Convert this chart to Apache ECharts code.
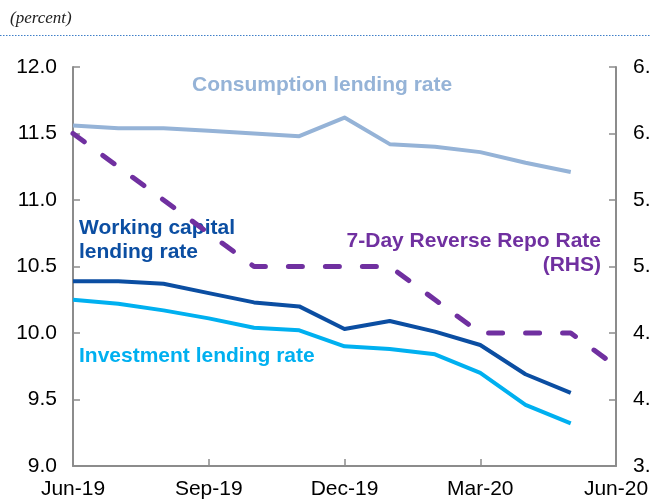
<!DOCTYPE html>
<html>
<head>
<meta charset="utf-8">
<script src="https://cdn.jsdelivr.net/npm/echarts@6/dist/echarts.min.js"></script>
<style>
  html, body { margin: 0; padding: 0; background: #fff; }
  #chart { width: 650px; height: 501px; }
</style>
</head>
<body>
<div id="chart"></div>
<script>
// monthly observations, Jun-19 .. Jun-20
const months = ['Jun-19', 'Jul-19', 'Aug-19', 'Sep-19', 'Oct-19', 'Nov-19', 'Dec-19',
  'Jan-20', 'Feb-20', 'Mar-20', 'Apr-20', 'May-20', 'Jun-20']
const consumption = [11.56, 11.54, 11.54, 11.52, 11.50, 11.48, 11.62, 11.42, 11.40, 11.36, 11.28, 11.21]
const workingCapital = [10.39, 10.39, 10.37, 10.30, 10.23, 10.20, 10.03, 10.09, 10.01, 9.91, 9.69, 9.55]
const investment = [10.25, 10.22, 10.17, 10.11, 10.04, 10.02, 9.90, 9.88, 9.84, 9.70, 9.46, 9.32]
const reverseRepo = [6.0, 5.75, 5.5, 5.25, 5.0, 5.0, 5.0, 5.0, 4.75, 4.5, 4.5, 4.5, 4.25]

const font = 'Liberation Sans, Arial, sans-serif'
const axisColor = '#8c8c8c'

let chart = echarts.init(document.getElementById('chart'))

function lineSeries (name, data, color, yIndex, dashed) {
  return {
    name: name,
    type: 'line',
    data: data,
    yAxisIndex: yIndex,
    symbol: 'none',
    silent: true,
    lineStyle: {
      color: color,
      width: dashed ? 5 : 4,
      type: dashed ? [14, 23] : 'solid',
      cap: dashed ? 'round' : 'butt',
      join: 'round'
    }
  }
}

function label (text, x, y, color, align) {
  return {
    type: 'text',
    x: x,
    y: y,
    style: {
      text: text,
      fill: color,
      font: 'bold 21px ' + font,
      align: align || 'left',
      verticalAlign: 'middle',
      lineHeight: 24
    }
  }
}

let options = {
  animation: false,
  grid: { left: 73, right: 34, top: 67, bottom: 35, outerBoundsMode: 'none' },
  xAxis: {
    type: 'category',
    data: months,
    boundaryGap: false,
    axisLine: { lineStyle: { color: axisColor, width: 2 } },
    axisTick: { inside: true, length: 7, interval: 2, lineStyle: { color: axisColor, width: 1.5 } },
    axisLabel: { interval: 2, margin: 13, color: '#000', fontSize: 21, fontFamily: font }
  },
  yAxis: [
    {
      type: 'value',
      min: 9,
      max: 12,
      interval: 0.5,
      axisLine: { show: true, lineStyle: { color: axisColor, width: 2 } },
      axisTick: { show: true, inside: true, length: 7, lineStyle: { color: axisColor, width: 1.5 } },
      axisLabel: { margin: 16, color: '#000', fontSize: 21, fontFamily: font, formatter: v => v.toFixed(1) },
      splitLine: { show: false }
    },
    {
      type: 'value',
      min: 3.5,
      max: 6.5,
      interval: 0.5,
      position: 'right',
      axisLine: { show: true, lineStyle: { color: axisColor, width: 2 } },
      axisTick: { show: true, inside: true, length: 7, lineStyle: { color: axisColor, width: 1.5 } },
      axisLabel: { margin: 17, color: '#000', fontSize: 21, fontFamily: font, formatter: v => v.toFixed(1) },
      splitLine: { show: false }
    }
  ],
  series: [
    lineSeries('Consumption lending rate', consumption, '#95b3d7', 0),
    lineSeries('Working capital lending rate', workingCapital, '#0b4ea2', 0),
    lineSeries('Investment lending rate', investment, '#00b0f0', 0),
    lineSeries('7-Day Reverse Repo Rate (RHS)', reverseRepo, '#7030a0', 1, true)
  ],
  graphic: [
    {
      type: 'text',
      x: 10,
      y: 19,
      style: { text: '(percent)', fill: '#222', font: 'italic 17px Liberation Serif, serif', verticalAlign: 'middle' }
    },
    {
      type: 'line',
      shape: { x1: 0, y1: 35.5, x2: 650, y2: 35.5 },
      style: { stroke: '#3f7fc8', lineWidth: 1, lineDash: [1.5, 1.5] }
    },
    label('Consumption lending rate', 192, 85, '#95b3d7'),
    label('Working capital\nlending rate', 79, 240, '#0b4ea2'),
    label('7-Day Reverse Repo Rate\n(RHS)', 601, 253, '#7030a0', 'right'),
    label('Investment lending rate', 79, 356, '#00b0f0')
  ]
}

chart.setOption(options)
</script>
</body>
</html>
